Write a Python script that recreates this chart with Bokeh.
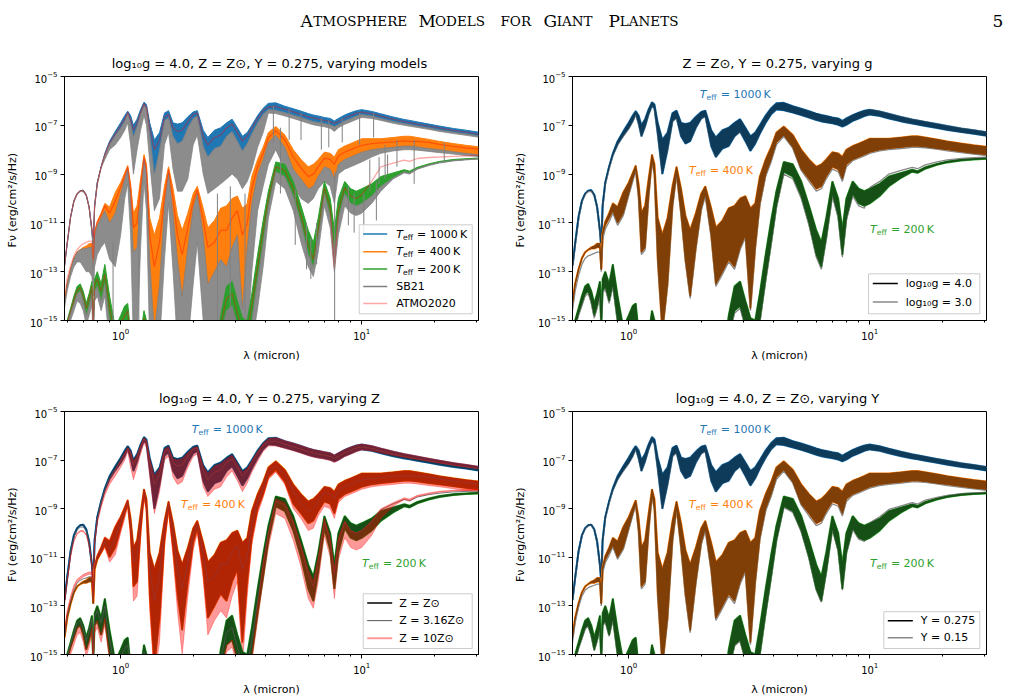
import numpy as np
from bokeh.plotting import figure
from bokeh.models import Range1d, FixedTicker
from bokeh.layouts import column, row
from bokeh.embed import file_html
from bokeh.resources import INLINE
from bokeh.core.properties import value

# ---------------- data (log10 of F_nu, erg/cm2/s/Hz) ----------------
wl = [0.585, 0.60, 0.62, 0.64, 0.66, 0.68, 0.70, 0.72, 0.74, 0.76,
      0.77, 0.78, 0.80, 0.83, 0.86, 0.90, 0.95, 1.00, 1.04, 1.07,
      1.10, 1.13, 1.17, 1.21, 1.25, 1.28, 1.32, 1.38, 1.45, 1.52,
      1.58, 1.65, 1.72, 1.80, 1.90, 2.00, 2.08, 2.20, 2.30, 2.45,
      2.60, 2.75, 2.90, 3.05, 3.20, 3.35, 3.50, 3.70, 3.90, 4.10,
      4.40, 4.80, 5.20, 5.60, 6.00, 6.30, 6.60, 7.00, 7.40, 7.70,
      8.00, 8.50, 9.00, 9.50, 10.0, 11.0, 12.0, 13.5, 15.0, 15.8,
      17.0, 19.0, 21.0, 24.0, 27.0, 30.5]

# main model, upper / lower envelope of the noisy spectrum
hi_1000 = [-12.75, -11.85, -10.75, -10.10, -9.80, -9.68, -9.66, -9.85, -10.35, -11.30,
           -12.00, -10.30, -9.35, -8.70, -8.15, -7.65, -7.25, -6.90, -6.60, -6.42,
           -6.60, -7.00, -6.75, -6.35, -6.05, -6.15, -6.90, -7.60, -7.30, -6.50,
           -6.40, -6.90, -6.95, -6.90, -6.65, -6.45, -6.40, -7.20, -7.50, -7.20,
           -7.10, -6.90, -6.75, -7.10, -7.45, -7.30, -7.00, -6.60, -6.30, -6.10,
           -6.08, -6.22, -6.32, -6.42, -6.52, -6.58, -6.62, -6.68, -6.72, -6.82,
           -6.72, -6.58, -6.48, -6.40, -6.36, -6.43, -6.53, -6.66, -6.76, -6.80,
           -6.86, -6.95, -7.03, -7.13, -7.20, -7.28]
lo_1000 = [-12.75, -11.85, -10.75, -10.10, -9.80, -9.68, -9.66, -9.85, -10.35, -11.30,
           -12.00, -10.30, -9.35, -8.70, -8.22, -7.78, -7.42, -7.12, -6.82, -6.52,
           -6.92, -7.45, -7.05, -6.55, -6.18, -6.32, -7.35, -9.00, -8.00, -6.82,
           -6.68, -7.45, -7.75, -7.65, -7.10, -6.72, -6.62, -7.85, -8.30, -7.95,
           -7.85, -7.45, -7.25, -7.65, -8.05, -7.75, -7.35, -6.90, -6.55, -6.35,
           -6.38, -6.48, -6.58, -6.68, -6.78, -6.84, -6.88, -6.92, -6.98, -7.05,
           -6.98, -6.82, -6.72, -6.62, -6.56, -6.62, -6.72, -6.84, -6.93, -6.97,
           -7.03, -7.11, -7.19, -7.28, -7.35, -7.43]
hi_400 = [-14.30, -13.50, -12.90, -12.45, -12.20, -12.10, -12.00, -11.95, -11.85, -11.85,
          -12.90, -11.40, -10.95, -10.60, -10.20, -10.35, -9.75, -9.35, -8.95, -8.65,
          -9.40, -10.60, -10.30, -9.20, -8.20, -8.60, -10.80, -11.50, -10.80, -9.50,
          -8.70, -9.60, -10.70, -11.30, -10.60, -9.80, -9.50, -10.40, -11.20, -10.90,
          -10.40, -10.30, -10.00, -9.90, -10.40, -10.20, -9.10, -8.40, -7.90, -7.30,
          -7.05, -7.40, -8.00, -8.40, -8.70, -8.60, -8.40, -8.10, -8.15, -8.30,
          -8.00, -7.85, -7.75, -7.65, -7.55, -7.55, -7.55, -7.50, -7.45, -7.45,
          -7.50, -7.58, -7.66, -7.75, -7.82, -7.88]
lo_400 = [-14.30, -13.50, -12.90, -12.45, -12.20, -12.10, -12.05, -12.05, -12.00, -12.00,
          -12.90, -11.50, -11.10, -10.80, -10.50, -11.00, -10.60, -9.80, -9.20, -8.80,
          -9.90, -12.20, -12.00, -9.90, -8.40, -9.00, -12.50, -15.50, -13.50, -10.30,
          -8.95, -10.60, -12.50, -14.00, -12.00, -10.40, -9.80, -11.50, -13.50, -13.00,
          -12.50, -12.80, -12.00, -11.50, -14.50, -12.00, -10.20, -9.00, -8.40, -7.70,
          -7.40, -7.90, -8.80, -9.20, -9.60, -9.50, -9.10, -8.70, -8.80, -9.20,
          -8.60, -8.40, -8.30, -8.20, -8.10, -8.00, -7.95, -7.90, -7.85, -7.85,
          -7.88, -7.95, -8.00, -8.08, -8.15, -8.20]
hi_200 = [-15.40, -15.00, -14.50, -14.00, -13.60, -13.50, -13.80, -14.30, -13.90, -13.40,
          -14.90, -13.30, -13.00, -13.50, -12.70, -14.00, -15.30, -14.80, -14.40, -14.30,
          -15.50, -16.50, -16.50, -15.60, -14.60, -15.00, -16.50, -17.00, -17.00, -17.00,
          -15.30, -16.50, -17.00, -17.00, -17.00, -15.80, -15.60, -17.00, -17.00, -17.00,
          -14.80, -13.60, -13.40, -14.20, -14.90, -15.00, -13.90, -12.30, -10.90, -9.70,
          -8.50, -8.60, -9.30, -10.30, -11.30, -11.80, -10.80, -9.30, -10.00, -11.30,
          -10.00, -9.30, -9.60, -9.70, -9.60, -9.40, -9.10, -8.95, -8.82, -8.88,
          -8.72, -8.58, -8.48, -8.40, -8.37, -8.34]
lo_200 = [-15.60, -15.20, -14.70, -14.30, -13.90, -13.80, -14.20, -14.80, -14.40, -13.90,
          -15.30, -13.80, -13.60, -14.20, -13.50, -15.00, -16.00, -15.50, -15.20, -15.00,
          -16.00, -17.00, -17.00, -16.20, -15.30, -15.80, -17.00, -17.00, -17.00, -17.00,
          -16.00, -17.00, -17.00, -17.00, -17.00, -16.50, -16.30, -17.00, -17.00, -17.00,
          -15.60, -14.60, -14.40, -15.20, -16.00, -16.00, -15.00, -13.30, -11.80, -10.30,
          -8.90, -9.10, -9.90, -11.00, -12.30, -12.80, -11.60, -9.80, -10.70, -12.30,
          -10.80, -9.80, -10.20, -10.30, -10.20, -9.90, -9.50, -9.15, -8.90, -8.95,
          -8.78, -8.62, -8.52, -8.44, -8.40, -8.37]

# SB21: lower envelope of its (much noisier) spectrum
sb21_lo_1000 = [-12.80, -11.90, -10.80, -10.15, -9.85, -9.72, -9.72, -9.90, -10.40, -11.40,
                -12.20, -10.40, -9.45, -8.75, -8.40, -8.00, -7.80, -7.50, -7.20, -6.90,
                -7.80, -9.00, -8.00, -7.20, -6.60, -7.00, -8.50, -10.50, -10.00, -7.80,
                -7.30, -8.80, -9.70, -9.70, -9.20, -7.80, -7.40, -9.00, -9.80, -9.60,
                -9.40, -9.20, -9.00, -9.20, -9.60, -9.30, -8.80, -7.90, -7.30, -6.50,
                -6.52, -6.62, -6.72, -6.82, -6.92, -6.98, -7.02, -7.06, -7.12, -7.25,
                -7.10, -6.96, -6.86, -6.76, -6.68, -6.72, -6.80, -6.92, -7.00, -7.04,
                -7.09, -7.17, -7.25, -7.34, -7.41, -7.49]
sb21_lo_400 = [-14.50, -13.80, -13.20, -12.80, -12.60, -12.60, -12.80, -13.00, -13.00, -13.20,
               -14.00, -12.80, -12.30, -12.00, -11.80, -12.50, -12.80, -11.50, -10.00, -9.40,
               -11.50, -16.00, -16.00, -12.00, -9.30, -10.50, -16.00, -16.00, -16.00, -12.50,
               -10.20, -13.00, -16.00, -16.00, -16.00, -13.50, -11.80, -15.00, -16.00, -16.00,
               -16.00, -16.00, -16.00, -16.00, -16.00, -16.00, -13.00, -10.50, -9.50, -8.60,
               -8.00, -8.80, -9.50, -10.00, -10.20, -10.00, -9.60, -9.30, -9.50, -10.20,
               -9.00, -8.80, -8.70, -8.60, -8.50, -8.30, -8.15, -8.05, -8.00, -8.00,
               -8.02, -8.07, -8.12, -8.18, -8.24, -8.28]
sb21_lo_200 = [-16.00, -15.60, -15.00, -14.60, -14.20, -14.30, -14.60, -15.20, -14.80, -14.40,
               -16.00, -14.20, -14.00, -14.60, -14.00, -16.00, -17.00, -17.00, -17.00, -17.00,
               -17.00, -17.00, -17.00, -17.00, -17.00, -17.00, -17.00, -17.00, -17.00, -17.00,
               -17.00, -17.00, -17.00, -17.00, -17.00, -17.00, -17.00, -17.00, -17.00, -17.00,
               -16.00, -15.20, -15.00, -16.00, -17.00, -17.00, -16.00, -14.50, -12.80, -10.80,
               -9.30, -9.60, -10.50, -11.80, -12.80, -13.20, -12.20, -10.30, -11.20, -13.00,
               -11.50, -10.30, -10.60, -10.70, -10.60, -10.20, -9.70, -9.20, -8.95, -9.00,
               -8.80, -8.65, -8.55, -8.46, -8.42, -8.38]
# SB21 single deep absorption spikes
sb21_spike_wl = [0.93, 1.19, 2.52, 2.85, 3.28, 4.3, 4.6, 5.0, 5.3, 5.9, 6.15, 6.5, 6.8,
                 7.72, 8.8, 9.3, 9.8, 10.2, 10.8, 11.5, 11.8, 12.5, 12.8, 16.5, 22.0,
                 5.6, 7.3, 8.3, 11.2, 14.0]
sb21_spike_top = [-11.8, -10.5, -9.8, -9.5, -9.8, -6.2, -7.1, -6.3, -9.6, -11.0, -11.6, -11.0, -6.7,
                  -8.9, -9.5, -9.8, -6.5, -9.8, -8.4, -9.3, -8.3, -7.8, -8.2, -7.6, -7.7,
                  -6.5, -6.8, -6.7, -6.5, -7.6]
sb21_spike_bot = [-15.2, -15.5, -15.5, -15.5, -15.5, -7.7, -9.8, -7.6, -11.9, -12.9, -13.3, -12.7, -8.0,
                  -16.0, -11.1, -11.4, -7.8, -11.6, -9.7, -10.9, -9.4, -9.2, -9.0, -9.4, -8.5,
                  -7.6, -7.9, -7.7, -7.5, -8.7]

# ATMO2020
atmo_1000 = [-12.75, -11.85, -10.75, -10.10, -9.80, -9.68, -9.68, -9.86, -10.35, -11.20,
             -11.60, -10.30, -9.38, -8.72, -8.20, -7.72, -7.35, -7.00, -6.72, -6.48,
             -6.75, -7.20, -6.90, -6.45, -6.12, -6.25, -7.10, -8.00, -7.60, -6.65,
             -6.55, -7.10, -7.25, -7.20, -6.85, -6.55, -6.50, -7.45, -7.80, -7.50,
             -7.40, -7.10, -6.95, -7.30, -7.65, -7.45, -7.10, -6.72, -6.40, -6.25,
             -6.22, -6.35, -6.45, -6.55, -6.65, -6.70, -6.75, -6.80, -6.85, -6.92,
             -6.85, -6.70, -6.60, -6.50, -6.46, -6.52, -6.62, -6.75, -6.85, -6.89,
             -6.95, -7.03, -7.11, -7.21, -7.28, -7.36]
atmo_400 = [-14.10, -13.30, -12.75, -12.35, -12.10, -11.95, -11.85, -11.80, -11.75, -11.75,
            -12.50, -11.35, -10.95, -10.65, -10.30, -10.60, -10.10, -9.55, -9.05, -8.70,
            -9.60, -11.20, -11.00, -9.50, -8.30, -8.80, -11.50, -12.80, -11.80, -9.90,
            -8.80, -10.00, -11.50, -12.30, -11.20, -10.10, -9.65, -10.90, -12.00, -11.80,
            -11.30, -11.30, -10.80, -10.50, -11.50, -11.00, -9.60, -8.70, -8.15, -7.50,
            -7.22, -7.60, -8.30, -8.75, -9.10, -9.00, -8.70, -8.35, -8.40, -8.60,
            -8.25, -8.10, -8.00, -7.90, -7.82, -7.75, -7.72, -7.68, -7.64, -7.66,
            -7.66, -7.70, -7.78, -7.86, -7.92, -7.98]
atmo_200 = [-15.50, -15.10, -14.60, -14.15, -13.75, -13.65, -14.00, -14.50, -14.10, -13.60,
            -15.10, -13.50, -13.30, -13.80, -13.10, -14.50, -15.70, -15.10, -14.80, -14.60,
            -15.80, -17.00, -17.00, -15.90, -14.90, -15.40, -17.00, -17.00, -17.00, -17.00,
            -15.60, -17.00, -17.00, -17.00, -17.00, -16.10, -15.90, -17.00, -17.00, -17.00,
            -15.20, -14.10, -13.90, -14.70, -15.40, -15.50, -14.40, -12.80, -11.30, -10.00,
            -8.70, -8.85, -9.60, -10.70, -11.90, -12.50, -11.30, -9.55, -10.40, -12.90,
            -10.50, -9.55, -9.90, -10.00, -9.85, -9.30, -8.70, -8.55, -8.43, -8.48,
            -8.36, -8.32, -8.30, -8.27, -8.25, -8.23]

# log10 g = 3.0
g3_1000 = [-12.85, -11.95, -10.85, -10.15, -9.85, -9.72, -9.72, -9.90, -10.40, -11.40,
           -12.10, -10.40, -9.45, -8.80, -8.25, -7.80, -7.45, -7.15, -6.85, -6.55,
           -6.95, -7.45, -7.05, -6.55, -6.15, -6.35, -7.35, -8.90, -8.00, -6.85,
           -6.70, -7.40, -7.65, -7.60, -7.10, -6.72, -6.65, -7.80, -8.30, -7.90,
           -7.80, -7.45, -7.25, -7.60, -8.00, -7.70, -7.30, -6.85, -6.50, -6.30,
           -6.30, -6.40, -6.50, -6.60, -6.70, -6.75, -6.80, -6.85, -6.90, -6.95,
           -6.90, -6.75, -6.65, -6.55, -6.36, -6.43, -6.53, -6.66, -6.76, -6.80,
           -6.86, -6.95, -7.03, -7.13, -7.20, -7.28]
g3_400 = [-14.60, -13.80, -13.15, -12.70, -12.45, -12.35, -12.30, -12.25, -12.20, -12.20,
          -13.00, -11.70, -11.25, -10.95, -10.60, -11.10, -10.70, -9.90, -9.30, -8.85,
          -10.00, -12.30, -12.10, -10.00, -8.45, -9.10, -12.60, -15.50, -13.60, -10.40,
          -9.00, -10.70, -12.60, -14.10, -12.10, -10.50, -9.90, -11.60, -13.60, -13.10,
          -12.60, -12.90, -12.10, -11.60, -14.60, -12.10, -10.30, -9.10, -8.50, -7.80,
          -7.45, -7.95, -8.85, -9.30, -9.70, -9.60, -9.20, -8.80, -8.90, -9.30,
          -8.70, -8.45, -8.35, -8.25, -8.15, -8.05, -8.00, -7.95, -7.90, -7.90,
          -7.92, -7.98, -8.05, -8.12, -8.18, -8.24]
g3_200 = [-15.70, -15.30, -14.80, -14.40, -14.00, -13.90, -14.30, -14.90, -14.50, -14.00,
          -15.40, -13.90, -13.70, -14.30, -13.60, -15.10, -16.10, -15.60, -15.30, -15.10,
          -16.10, -17.00, -17.00, -16.30, -15.40, -15.90, -17.00, -17.00, -17.00, -17.00,
          -16.10, -17.00, -17.00, -17.00, -17.00, -16.60, -16.40, -17.00, -17.00, -17.00,
          -15.70, -14.70, -14.50, -15.30, -16.10, -16.10, -15.10, -13.40, -11.90, -10.40,
          -9.00, -9.20, -10.00, -11.10, -12.40, -12.90, -11.70, -9.90, -10.80, -12.40,
          -10.90, -9.90, -10.30, -10.40, -9.55, -9.30, -9.00, -8.85, -8.72, -8.78,
          -8.62, -8.50, -8.42, -8.36, -8.33, -8.31]

# Z = 3.16 Z_sun
z316_1000 = [-12.80, -11.90, -10.82, -10.18, -9.88, -9.76, -9.75, -9.92, -10.40, -11.30,
             -11.90, -10.35, -9.40, -8.75, -8.22, -7.75, -7.38, -7.02, -6.74, -6.50,
             -6.75, -7.20, -6.90, -6.45, -6.12, -6.25, -7.10, -8.00, -7.60, -6.65,
             -6.55, -7.10, -7.25, -7.20, -6.85, -6.55, -6.50, -7.45, -7.80, -7.50,
             -7.40, -7.10, -6.95, -7.30, -7.65, -7.45, -7.10, -6.72, -6.40, -6.25,
             -6.22, -6.35, -6.45, -6.55, -6.65, -6.70, -6.75, -6.80, -6.85, -6.92,
             -6.85, -6.70, -6.60, -6.50, -6.46, -6.52, -6.62, -6.75, -6.85, -6.89,
             -6.95, -7.03, -7.11, -7.21, -7.28, -7.36]
z316_400 = [-14.20, -13.40, -12.80, -12.35, -12.05, -11.95, -11.88, -11.85, -11.80, -11.80,
            -12.70, -11.40, -10.98, -10.68, -10.35, -10.70, -10.20, -9.60, -9.10, -8.72,
            -9.60, -11.20, -11.00, -9.50, -8.30, -8.80, -11.50, -12.80, -11.80, -9.90,
            -8.80, -10.00, -11.50, -12.30, -11.20, -10.10, -9.65, -10.90, -12.00, -11.80,
            -11.30, -11.30, -10.80, -10.50, -11.50, -11.00, -9.60, -8.70, -8.15, -7.50,
            -7.22, -7.60, -8.30, -8.75, -9.10, -9.00, -8.70, -8.35, -8.40, -8.60,
            -8.25, -8.10, -8.00, -7.90, -7.82, -7.75, -7.72, -7.68, -7.64, -7.66,
            -7.66, -7.70, -7.78, -7.86, -7.92, -7.98]
z316_200 = [-15.45, -15.05, -14.55, -14.10, -13.70, -13.60, -13.95, -14.45, -14.05, -13.55,
            -15.00, -13.45, -13.20, -13.70, -13.00, -14.40, -15.60, -15.10, -14.75, -14.60,
            -15.70, -17.00, -17.00, -15.90, -14.90, -15.40, -17.00, -17.00, -17.00, -17.00,
            -15.60, -17.00, -17.00, -17.00, -17.00, -16.10, -15.90, -17.00, -17.00, -17.00,
            -15.20, -14.10, -13.90, -14.70, -15.40, -15.50, -14.40, -12.80, -11.30, -10.00,
            -8.70, -8.85, -9.60, -10.60, -11.70, -12.20, -11.20, -9.55, -10.35, -11.70,
            -10.40, -9.55, -9.90, -10.00, -9.90, -9.55, -9.05, -8.80, -8.62, -8.68,
            -8.52, -8.42, -8.36, -8.31, -8.29, -8.27]

# Z = 10 Z_sun (upper / lower envelope)
z10_hi_1000 = [-12.90, -12.00, -10.95, -10.30, -10.00, -9.90, -9.90, -10.05, -10.50, -11.30,
               -11.90, -10.40, -9.50, -8.85, -8.30, -7.80, -7.40, -7.02, -6.70, -6.48,
               -6.65, -7.05, -6.80, -6.40, -6.08, -6.18, -6.95, -7.65, -7.35, -6.55,
               -6.45, -6.95, -7.00, -6.95, -6.70, -6.50, -6.45, -7.25, -7.55, -7.25,
               -7.15, -6.95, -6.80, -7.15, -7.50, -7.35, -7.05, -6.65, -6.32, -6.12,
               -6.08, -6.20, -6.30, -6.40, -6.50, -6.56, -6.60, -6.65, -6.70, -6.78,
               -6.70, -6.56, -6.46, -6.38, -6.34, -6.40, -6.50, -6.63, -6.73, -6.77,
               -6.83, -6.92, -7.00, -7.10, -7.17, -7.25]
z10_lo_1000 = [-12.95, -12.05, -11.00, -10.35, -10.05, -9.95, -9.95, -10.10, -10.55, -11.40,
               -12.10, -10.50, -9.60, -8.95, -8.45, -8.00, -7.65, -7.30, -7.00, -6.65,
               -7.30, -7.80, -7.30, -6.75, -6.30, -6.50, -7.70, -9.20, -8.30, -7.00,
               -6.85, -7.70, -8.00, -7.90, -7.30, -6.85, -6.75, -8.10, -8.50, -8.20,
               -8.10, -7.70, -7.45, -7.85, -8.30, -7.95, -7.50, -7.05, -6.65, -6.42,
               -6.42, -6.52, -6.62, -6.72, -6.82, -6.88, -6.92, -6.96, -7.02, -7.10,
               -7.02, -6.86, -6.76, -6.66, -6.58, -6.62, -6.70, -6.80, -6.88, -6.92,
               -6.97, -7.05, -7.12, -7.21, -7.28, -7.35]
z10_hi_400 = [-14.00, -13.20, -12.60, -12.15, -11.90, -11.80, -11.70, -11.65, -11.60, -11.60,
              -12.40, -11.30, -10.90, -10.55, -10.15, -10.30, -9.70, -9.30, -8.92, -8.62,
              -9.40, -10.60, -10.30, -9.20, -8.18, -8.60, -10.80, -11.50, -10.80, -9.50,
              -8.68, -9.60, -10.70, -11.30, -10.60, -9.80, -9.48, -10.40, -11.20, -10.90,
              -10.40, -10.30, -10.00, -9.90, -10.40, -10.20, -9.10, -8.40, -7.90, -7.30,
              -7.05, -7.40, -8.00, -8.40, -8.70, -8.60, -8.40, -8.10, -8.15, -8.30,
              -8.00, -7.85, -7.75, -7.65, -7.55, -7.55, -7.55, -7.50, -7.45, -7.45,
              -7.50, -7.58, -7.66, -7.75, -7.82, -7.88]
z10_lo_400 = [-14.10, -13.30, -12.70, -12.25, -12.00, -11.90, -11.80, -11.75, -11.70, -11.72,
              -12.80, -11.45, -11.10, -10.85, -10.60, -11.20, -10.90, -10.00, -9.40, -8.90,
              -10.20, -12.80, -12.60, -10.20, -8.50, -9.20, -13.20, -16.00, -14.50, -10.60,
              -9.05, -11.00, -13.20, -15.00, -12.60, -10.70, -10.00, -11.90, -14.20, -13.60,
              -13.20, -13.50, -12.60, -12.00, -15.50, -12.60, -10.50, -9.20, -8.55, -7.80,
              -7.50, -8.00, -9.00, -9.40, -9.90, -9.80, -9.30, -8.90, -9.00, -9.40,
              -8.75, -8.50, -8.40, -8.30, -8.20, -8.10, -8.05, -8.00, -7.95, -7.95,
              -7.98, -8.05, -8.10, -8.18, -8.25, -8.30]
z10_hi_200 = [-15.60, -15.20, -14.70, -14.30, -13.90, -13.80, -14.20, -14.80, -14.40, -13.90,
              -15.30, -13.80, -13.60, -14.20, -13.50, -15.00, -16.00, -15.50, -15.20, -15.00,
              -16.00, -17.00, -17.00, -16.20, -15.30, -15.80, -17.00, -17.00, -17.00, -17.00,
              -16.00, -17.00, -17.00, -17.00, -17.00, -16.50, -16.30, -17.00, -17.00, -17.00,
              -15.60, -14.60, -14.40, -15.20, -16.00, -16.00, -15.00, -13.00, -11.20, -10.00,
              -8.60, -8.75, -9.50, -10.50, -11.50, -12.00, -11.00, -9.40, -10.20, -11.50,
              -10.20, -9.50, -9.90, -10.00, -9.90, -9.50, -9.00, -8.75, -8.55, -8.60,
              -8.45, -8.35, -8.28, -8.24, -8.22, -8.20]
z10_lo_200 = [-15.90, -15.50, -15.00, -14.60, -14.20, -14.10, -14.50, -15.10, -14.70, -14.20,
              -15.60, -14.10, -13.90, -14.50, -13.80, -15.30, -16.30, -15.80, -15.50, -15.30,
              -16.30, -17.00, -17.00, -16.50, -15.60, -16.10, -17.00, -17.00, -17.00, -17.00,
              -16.30, -17.00, -17.00, -17.00, -17.00, -16.80, -16.60, -17.00, -17.00, -17.00,
              -15.90, -14.90, -14.70, -15.50, -16.30, -16.30, -15.30, -13.60, -12.00, -10.60,
              -9.20, -9.40, -10.30, -11.40, -12.70, -13.10, -12.00, -10.10, -11.00, -12.70,
              -11.10, -10.20, -10.60, -10.70, -10.60, -10.10, -9.40, -8.90, -8.62, -8.67,
              -8.50, -8.40, -8.32, -8.27, -8.25, -8.23]

# Y = 0.15
y015_1000 = [-12.78, -11.88, -10.78, -10.12, -9.82, -9.70, -9.68, -9.87, -10.37, -11.33,
             -12.05, -10.35, -9.42, -8.78, -8.24, -7.80, -7.44, -7.14, -6.84, -6.54,
             -6.94, -7.45, -7.05, -6.55, -6.16, -6.34, -7.35, -8.95, -8.00, -6.84,
             -6.70, -7.42, -7.70, -7.62, -7.10, -6.72, -6.64, -7.82, -8.28, -7.92,
             -7.82, -7.45, -7.25, -7.62, -8.02, -7.72, -7.32, -6.86, -6.52, -6.32,
             -6.32, -6.42, -6.52, -6.62, -6.72, -6.78, -6.82, -6.86, -6.92, -6.98,
             -6.92, -6.76, -6.66, -6.56, -6.40, -6.46, -6.56, -6.68, -6.78, -6.82,
             -6.88, -6.96, -7.04, -7.14, -7.21, -7.29]
y015_400 = [-14.50, -13.70, -13.05, -12.60, -12.35, -12.25, -12.20, -12.15, -12.10, -12.10,
            -13.00, -11.65, -11.22, -10.92, -10.58, -11.08, -10.68, -9.88, -9.28, -8.84,
            -10.00, -12.30, -12.10, -10.00, -8.45, -9.10, -12.60, -15.50, -13.60, -10.40,
            -9.00, -10.70, -12.60, -14.10, -12.10, -10.50, -9.90, -11.60, -13.60, -13.10,
            -12.60, -12.90, -12.10, -11.60, -14.60, -12.10, -10.30, -9.10, -8.50, -7.80,
            -7.45, -7.95, -8.85, -9.30, -9.70, -9.60, -9.20, -8.80, -8.90, -9.30,
            -8.70, -8.45, -8.35, -8.25, -8.15, -8.05, -8.00, -7.95, -7.90, -7.90,
            -7.92, -7.98, -8.05, -8.12, -8.18, -8.24]
y015_200 = [-15.65, -15.25, -14.75, -14.35, -13.95, -13.85, -14.25, -14.85, -14.45, -13.95,
            -15.35, -13.85, -13.65, -14.25, -13.55, -15.05, -16.05, -15.55, -15.25, -15.05,
            -16.05, -17.00, -17.00, -16.25, -15.35, -15.85, -17.00, -17.00, -17.00, -17.00,
            -16.05, -17.00, -17.00, -17.00, -17.00, -16.55, -16.35, -17.00, -17.00, -17.00,
            -15.65, -14.65, -14.45, -15.25, -16.05, -16.05, -15.05, -13.35, -11.85, -10.35,
            -8.95, -9.15, -9.95, -11.05, -12.35, -12.85, -11.65, -9.85, -10.75, -12.35,
            -10.85, -9.85, -10.25, -10.35, -9.58, -9.33, -9.03, -8.88, -8.75, -8.81,
            -8.65, -8.53, -8.45, -8.38, -8.35, -8.33]

temps = [1000, 400, 200]

for _a in [hi_1000, lo_1000, hi_400, lo_400, hi_200, lo_200, sb21_lo_1000, sb21_lo_400,
           sb21_lo_200, atmo_1000, atmo_400, atmo_200, g3_1000, g3_400, g3_200, z316_1000,
           z316_400, z316_200, z10_hi_1000, z10_lo_1000, z10_hi_400, z10_lo_400, z10_hi_200,
           z10_lo_200, y015_1000, y015_400, y015_200]:
    assert len(_a) == len(wl), len(_a)

# ---------------- styling ----------------
FONT = "DejaVu Sans"
COL = {1000: "#1f77b4", 400: "#ff7f0e", 200: "#2ca02c"}
DARK = {1000: "#0f3b5a", 400: "#7f3f07", 200: "#165016"}
XMIN, XMAX = 0.585, 30.5
FW, FH = 414, 244


def flux(a):
    return 10.0 ** np.asarray(a, dtype=float)


def fx(u):
    l0, l1 = np.log10(XMIN), np.log10(XMAX)
    return 10 ** (l0 + u / FW * (l1 - l0))


def fy(v):
    return 10 ** (-5.0 - v / FH * 10.0)


def make_panel(title, height, left, right, bottom):
    p = figure(width=505, height=height, x_axis_type="log", y_axis_type="log",
               x_range=Range1d(XMIN, XMAX), y_range=Range1d(1e-15, 1e-5),
               output_backend="svg", toolbar_location=None,
               min_border_left=left, min_border_right=right,
               min_border_top=36, min_border_bottom=bottom)
    p.title.text = title
    p.title.align = "center"
    p.title.text_font = FONT
    p.title.text_font_size = "13px"
    p.title.text_font_style = "normal"
    p.title.text_color = "black"
    p.title.standoff = 12
    p.grid.visible = False
    p.outline_line_color = "black"
    p.outline_line_width = 1
    p.xaxis.ticker = FixedTicker(ticks=[1, 10],
                                 minor_ticks=[0.6, 0.7, 0.8, 0.9, 2, 3, 4, 5, 6, 7, 8, 9, 20, 30])
    p.yaxis.ticker = FixedTicker(ticks=[1e-15, 1e-13, 1e-11, 1e-9, 1e-7, 1e-5], minor_ticks=[])
    for ax in p.axis:
        ax.axis_line_color = "black"
        ax.major_tick_in = 0
        ax.major_tick_out = 4
        ax.minor_tick_in = 0
        ax.minor_tick_out = 2
        ax.major_tick_line_color = "black"
        ax.minor_tick_line_color = "black"
        ax.major_label_text_font = FONT
        ax.major_label_text_font_size = "10px"
        ax.major_label_text_color = "black"
        ax.major_label_standoff = 3
        ax.axis_label_text_font = FONT
        ax.axis_label_text_font_size = "11px"
        ax.axis_label_text_font_style = "normal"
        ax.axis_label_text_color = "black"
    p.xaxis.axis_label = "λ (micron)"
    p.yaxis.axis_label = "Fν  (erg/cm²/s/Hz)"
    p.xaxis.axis_label_standoff = 6
    p.yaxis.axis_label_standoff = 8
    return p


def band(p, lo, hi, color, alpha=1.0, lw=1.0):
    p.varea(x=wl, y1=flux(lo), y2=flux(hi), fill_color=color, fill_alpha=alpha)
    p.line(wl, flux(hi), line_color=color, line_alpha=alpha, line_width=lw)
    p.line(wl, flux(lo), line_color=color, line_alpha=alpha, line_width=lw)


def txt(p, u, v, s, color="black", size="11px", style="normal", dx=0, dy=0):
    p.text(x=[fx(u)], y=[fy(v)], text=[s], text_font=value(FONT), text_font_size=size,
           text_font_style=style, text_color=color, text_baseline="middle",
           text_align="left", x_offset=dx, y_offset=dy)


def teff(p, u, v, t, color, size=11):
    txt(p, u, v, "T", color, f"{size}px", "italic")
    txt(p, u, v, "eff", color, f"{size * 0.7:.1f}px", dx=size * 0.62, dy=size * 0.28)
    txt(p, u, v, f"= {t}\u2009K", color, f"{size}px", dx=size * 1.9)


def legend(p, box, rows, lu0, lu1, tu):
    u0, u1, v0, v1 = box
    p.quad(left=[fx(u0)], right=[fx(u1)], top=[fy(v0)], bottom=[fy(v1)],
           fill_color="white", fill_alpha=0.85, line_color="#cccccc", line_width=1)
    for v, color, alpha, lw, label in rows:
        p.segment(x0=[fx(lu0)], y0=[fy(v)], x1=[fx(lu1)], y1=[fy(v)],
                  line_color=color, line_alpha=alpha, line_width=lw)
        if callable(label):
            label(tu, v)
        else:
            txt(p, tu, v, label)


hi = {1000: hi_1000, 400: hi_400, 200: hi_200}
lo = {1000: lo_1000, 400: lo_400, 200: lo_200}
sb21_lo = {1000: sb21_lo_1000, 400: sb21_lo_400, 200: sb21_lo_200}
atmo = {1000: atmo_1000, 400: atmo_400, 200: atmo_200}
g3 = {1000: g3_1000, 400: g3_400, 200: g3_200}
z316 = {1000: z316_1000, 400: z316_400, 200: z316_200}
z10_hi = {1000: z10_hi_1000, 400: z10_hi_400, 200: z10_hi_200}
z10_lo = {1000: z10_lo_1000, 400: z10_lo_400, 200: z10_lo_200}
y015 = {1000: y015_1000, 400: y015_400, 200: y015_200}

# ---------------- header (small caps emulated) ----------------
head = figure(width=1010, height=40, x_range=Range1d(0, 1010), y_range=Range1d(40, 0),
              output_backend="svg", toolbar_location=None, min_border=0,
              x_axis_location=None, y_axis_location=None, outline_line_color=None)
head.grid.visible = False
head_pieces = [(300, "A", 17), (312.8, "TMOSPHERE", 13.5), (418, "M", 17), (434.5, "ODELS", 13.5),
               (500, "FOR", 13.5), (543, "G", 17), (556.2, "IANT", 13.5), (608, "P", 17),
               (619.3, "LANETS", 13.5), (992, "5", 17)]
for hx, hs, hz in head_pieces:
    head.text(x=[hx], y=[20], text=[hs], text_font=value("DejaVu Serif"),
              text_font_size=f"{hz}px", text_color="black", text_baseline="alphabetic",
              text_align="left")

# ---------------- panel 1: varying models ----------------
p1 = make_panel("log₁₀g = 4.0, Z = Z⊙, Y = 0.275,  varying models", 335, 64, 27, 55)
for t in temps:
    band(p1, lo[t], hi[t], COL[t])
    band(p1, sb21_lo[t], lo[t], "#808080", alpha=0.9, lw=0.8)
    p1.line(wl, flux(atmo[t]), line_color="red", line_alpha=0.35, line_width=1.3)
p1.segment(x0=sb21_spike_wl, y0=flux(sb21_spike_top), x1=sb21_spike_wl, y1=flux(sb21_spike_bot),
           line_color="#808080", line_width=1)
legend(p1, (294.7, 407.7, 148.3, 237.3),
       [(157.6, COL[1000], 1, 1.5, lambda u, v: teff(p1, u, v, "1000", "black")),
        (175.3, COL[400], 1, 1.5, lambda u, v: teff(p1, u, v, "400", "black")),
        (192.6, COL[200], 1, 1.5, lambda u, v: teff(p1, u, v, "200", "black")),
        (210.0, "#808080", 1, 1.5, "SB21"),
        (227.0, "red", 0.35, 1.5, "ATMO2020")],
       298.7, 322.7, 331.7)

# ---------------- panel 2: varying g ----------------
p2 = make_panel("Z = Z⊙, Y = 0.275,  varying g", 335, 67, 24, 55)
for t in temps:
    band(p2, lo[t], hi[t], COL[t], lw=2.0)
    p2.line(wl, flux(g3[t]), line_color="#888888", line_width=1.3)
    band(p2, lo[t], hi[t], DARK[t], lw=1.0)
legend(p2, (296.0, 407.3, 197.3, 237.3),
       [(207.0, "black", 1, 1.5, "log₁₀g = 4.0"),
        (225.6, "#888888", 1, 1.5, "log₁₀g = 3.0")],
       300.3, 325.3, 333.3)

# ---------------- panel 3: varying Z ----------------
p3 = make_panel("log₁₀g = 4.0, Y = 0.275,  varying Z", 323, 64, 27, 43)
for t in temps:
    band(p3, lo[t], hi[t], COL[t], lw=2.0)
    band(p3, lo[t], hi[t], DARK[t], lw=1.0)
    p3.line(wl, flux(z316[t]), line_color="#555555", line_width=0.8)
    band(p3, z10_lo[t], z10_hi[t], "#ff0000", alpha=0.4, lw=0.8)
legend(p3, (298.7, 407.7, 183.0, 238.0),
       [(192.3, "black", 1, 1.5, "Z = Z⊙"),
        (210.0, "#555555", 1, 1.0, "Z = 3.16Z⊙"),
        (227.7, "red", 0.4, 1.8, "Z = 10Z⊙")],
       302.7, 327.7, 334.7)

# ---------------- panel 4: varying Y ----------------
p4 = make_panel("log₁₀g = 4.0, Z = Z⊙,  varying Y", 323, 67, 24, 43)
for t in temps:
    band(p4, lo[t], hi[t], COL[t], lw=2.0)
    p4.line(wl, flux(y015[t]), line_color="#888888", line_width=1.3)
    band(p4, lo[t], hi[t], DARK[t], lw=1.0)
legend(p4, (311.3, 407.3, 201.0, 238.0),
       [(210.0, "black", 1, 1.5, "Y = 0.275"),
        (227.3, "#888888", 1, 1.5, "Y = 0.15")],
       315.3, 340.3, 348.3)

# T_eff annotations in panels 2-4
for pp in (p2, p3, p4):
    teff(pp, 127.3, 18.3, "1000", COL[1000], 11)
    teff(pp, 116.5, 93.6, "400", COL[400], 11)
    teff(pp, 297.5, 153.0, "200", COL[200], 11)

layout = column(head, row(p1, p2), row(p3, p4))
open("out.html", "w").write(file_html(layout, INLINE))
